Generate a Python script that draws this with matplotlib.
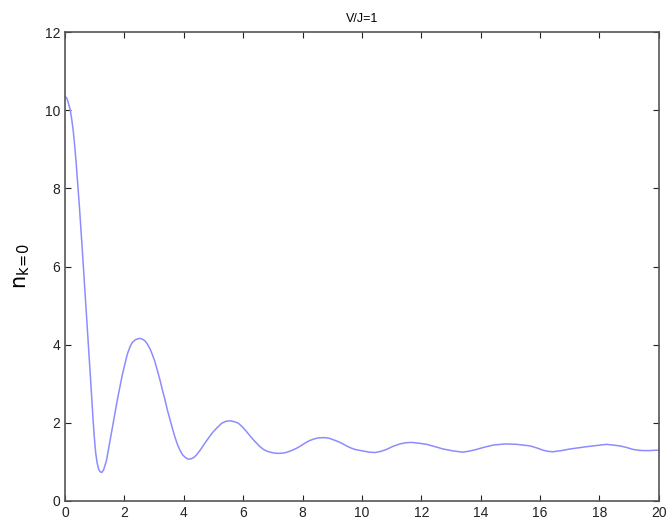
import matplotlib
matplotlib.use("Agg")
import matplotlib.pyplot as plt

plt.rcParams["font.family"] = ["Liberation Sans", "DejaVu Sans"]

# curve
t = [0.0, 0.05, 0.10, 0.17, 0.22, 0.28, 0.33, 0.38, 0.43, 0.48, 0.53, 0.58,
     0.62, 0.66, 0.70, 0.74, 0.79, 0.83, 0.87, 0.91, 0.95, 0.99, 1.03, 1.08,
     1.13, 1.18, 1.24, 1.30, 1.35, 1.40, 1.46, 1.52, 1.60, 1.68, 1.76, 1.85,
     1.93, 2.02, 2.10, 2.19, 2.27, 2.36, 2.45, 2.53, 2.61, 2.69, 2.77, 2.86,
     2.94, 3.03, 3.11, 3.20, 3.28, 3.37, 3.45, 3.54, 3.62, 3.70, 3.78, 3.87,
     3.95, 4.04, 4.15, 4.25, 4.35, 4.43, 4.57, 4.71, 4.85, 4.99, 5.14, 5.28,
     5.42, 5.56, 5.70, 5.84, 5.98, 6.12, 6.26, 6.40, 6.54, 6.68, 6.82, 6.96,
     7.10, 7.24, 7.38, 7.52, 7.66, 7.80, 7.94, 8.08, 8.22, 8.36, 8.50, 8.64,
     8.78, 8.92, 9.06, 9.20, 9.34, 9.48, 9.62, 9.76, 9.90, 10.04, 10.24,
     10.44, 10.64, 10.83, 11.05, 11.28, 11.47, 11.67, 11.90, 12.18, 12.46,
     12.74, 13.08, 13.41, 13.64, 13.86, 14.14, 14.42, 14.80, 15.21, 15.44,
     15.66, 15.88, 16.10, 16.27, 16.44, 16.72, 17.00, 17.28, 17.57, 17.90,
     18.24, 18.46, 18.69, 18.91, 19.13, 19.30, 19.47, 19.70, 19.90, 20.0]
n_k0 = [10.35, 10.32, 10.22, 10.02, 9.80, 9.45, 9.05, 8.60, 8.10, 7.58, 7.03,
        6.45, 5.98, 5.50, 5.02, 4.55, 3.98, 3.50, 3.00, 2.50, 2.02, 1.60, 1.25,
        0.98, 0.82, 0.75, 0.73, 0.80, 0.92, 1.05, 1.30, 1.56, 1.90, 2.24, 2.58,
        2.92, 3.23, 3.52, 3.76, 3.95, 4.06, 4.12, 4.15, 4.16, 4.14, 4.10, 4.02,
        3.90, 3.75, 3.56, 3.34, 3.09, 2.84, 2.58, 2.32, 2.07, 1.85, 1.64, 1.46,
        1.30, 1.19, 1.12, 1.07, 1.08, 1.12, 1.18, 1.32, 1.48, 1.63, 1.77, 1.89,
        1.99, 2.04, 2.05, 2.03, 1.99, 1.89, 1.77, 1.64, 1.52, 1.41, 1.32, 1.27,
        1.24, 1.22, 1.22, 1.23, 1.26, 1.30, 1.35, 1.41, 1.48, 1.54, 1.58, 1.61,
        1.62, 1.62, 1.60, 1.56, 1.52, 1.47, 1.41, 1.36, 1.32, 1.30, 1.28, 1.25,
        1.24, 1.27, 1.32, 1.40, 1.46, 1.49, 1.50, 1.48, 1.45, 1.39, 1.33, 1.28,
        1.25, 1.28, 1.32, 1.38, 1.43, 1.46, 1.45, 1.43, 1.41, 1.36, 1.30, 1.27,
        1.26, 1.29, 1.33, 1.36, 1.39, 1.42, 1.45, 1.43, 1.41, 1.37, 1.32, 1.30,
        1.29, 1.29, 1.30, 1.30]

fig = plt.figure(figsize=(6.71, 5.24), dpi=100)
ax = fig.add_axes([0.0969, 0.0439, 0.885, 0.895])

ax.plot(t, n_k0, color="#8c8cff", linewidth=1.1)

ax.set_xlim(0, 20)
ax.set_ylim(0, 12)
ax.set_xticks(range(0, 21, 2))
ax.set_yticks(range(0, 13, 2))
ax.tick_params(direction="in", top=True, right=True, length=4, width=0.8,
               labelsize=10, colors="#222222")
for s in ax.spines.values():
    s.set_color("#555555")
    s.set_linewidth(1.2)

ax.set_title("V/J=1", fontsize=9, pad=7)
ax.set_ylabel(r"$\mathrm{n}_{\mathrm{k\!=\!0}}$", fontsize=15, labelpad=9)

fig.savefig("out.png", dpi=100)
